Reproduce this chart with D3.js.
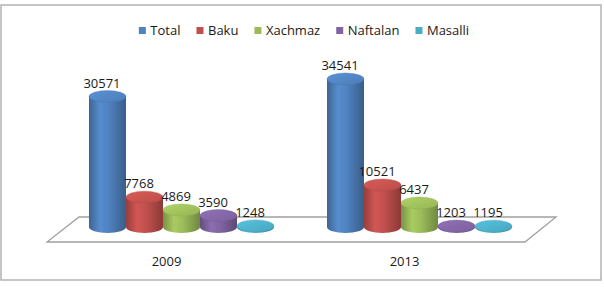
<!DOCTYPE html>
<html>
<head>
<meta charset="utf-8">
<script src="https://cdn.jsdelivr.net/npm/d3@7"></script>
<style>
  html, body { margin: 0; padding: 0; background: #fff; }
  svg { display: block; }
  text { font-family: "Open Sans", sans-serif; fill: #1a1a1a; }
</style>
</head>
<body>
<svg id="chart" width="604" height="287"></svg>
<script>
// ---- data ----
const years = ["2009", "2013"];
const seriesNames = ["Total", "Baku", "Xachmaz", "Naftalan", "Masalli"];
const seriesColors = ["#4F81BD", "#C0504D", "#9BBB59", "#8064A2", "#4BACC6"];
const values2009 = [30571, 7768, 4869, 3590, 1248];
const values2013 = [34541, 10521, 6437, 1203, 1195];
const valuesByYear = { "2009": values2009, "2013": values2013 };

// ---- layout ----
const W = 604, H = 287;
const svg = d3.select("#chart");

// border
svg.append("rect").attr("x", 1).attr("y", 5).attr("width", 600).attr("height", 275)
  .attr("fill", "#fff").attr("stroke", "#b3b3b3").attr("stroke-width", 1.5);

const x0 = d3.scaleBand().domain(years).range([62.5, 538.5])
  .paddingInner(0.2227).paddingOuter(0.1113);
const x1 = d3.scaleBand().domain(seriesNames).range([0, x0.bandwidth()]);
const y = d3.scaleLinear().domain([1000, 35000]).range([227, 77]).clamp(true);
const ry = 6;
const depthShift = 15;

// floor (3D parallelogram)
const floorBackY = 217, floorFrontY = 242;
const floorBackL = x0.range()[0] + 16.5, floorBackR = x0.range()[1] + 17.5;
const floorFrontL = floorBackL - 32, floorFrontR = floorBackR - 31;
svg.append("path")
  .attr("d", `M${floorBackL},${floorBackY} L${floorBackR},${floorBackY} L${floorFrontR},${floorFrontY} L${floorFrontL},${floorFrontY} Z`)
  .attr("fill", "#fff").attr("stroke", "#a0a0a0").attr("stroke-width", 1.3);

// gradients
const defs = svg.append("defs");
seriesColors.forEach((c, i) => {
  const base = d3.color(c);
  const g = defs.append("linearGradient").attr("id", "side" + i)
    .attr("x1", 0).attr("x2", 1).attr("y1", 0).attr("y2", 0);
  g.append("stop").attr("offset", "0%").attr("stop-color", base.darker(0.7));
  g.append("stop").attr("offset", "30%").attr("stop-color", base.brighter(0.25));
  g.append("stop").attr("offset", "55%").attr("stop-color", base);
  g.append("stop").attr("offset", "100%").attr("stop-color", base.darker(0.9));
  const t = defs.append("linearGradient").attr("id", "top" + i)
    .attr("x1", 0).attr("x2", 1).attr("y1", 0).attr("y2", 1);
  t.append("stop").attr("offset", "0%").attr("stop-color", base.brighter(0.35));
  t.append("stop").attr("offset", "100%").attr("stop-color", base.darker(0.1));
});

// cylinders
const bottomY = y(1000);
years.forEach(yr => {
  const vals = valuesByYear[yr];
  const g = svg.append("g");
  vals.forEach((v, i) => {
    const s = seriesNames[i];
    const bx = x0(yr) + x1(s);
    const w = x1.bandwidth();
    const rx = w / 2;
    const cx = bx + rx;
    const yt = y(v);
    g.append("path")
      .attr("d", `M${bx},${yt} L${bx},${bottomY} A${rx},${ry} 0 0 0 ${bx + w},${bottomY} L${bx + w},${yt} Z`)
      .attr("fill", `url(#side${i})`);
    g.append("ellipse").attr("cx", cx).attr("cy", yt).attr("rx", rx).attr("ry", ry)
      .attr("fill", `url(#top${i})`)
      .attr("stroke", d3.color(seriesColors[i]).darker(0.3)).attr("stroke-width", 0.4);
  });
  vals.forEach((v, i) => {
    const s = seriesNames[i];
    const cx = x0(yr) + x1(s) + x1.bandwidth() / 2;
    g.append("text").attr("x", cx - 5.5).attr("y", y(v) - ry - 3)
      .attr("text-anchor", "middle").attr("font-size", 13).text(v);
  });
});

// category labels
svg.selectAll(".cat").data(years).enter().append("text")
  .attr("class", "cat")
  .attr("x", d => x0(d) + x0.bandwidth() / 2 - depthShift)
  .attr("y", 266).attr("text-anchor", "middle").attr("font-size", 13)
  .text(d => d);

// legend
const legend = svg.append("g");
const items = legend.selectAll("g").data(seriesNames).enter().append("g");
items.append("rect").attr("width", 7).attr("height", 7).attr("y", 27)
  .attr("fill", (d, i) => seriesColors[i]);
items.append("text").attr("x", 11.5).attr("y", 35).attr("font-size", 13).text(d => d);
let cur = 0;
const pos = [];
items.each(function () {
  pos.push(cur);
  const tw = d3.select(this).select("text").node().getComputedTextLength();
  cur += 11.5 + tw + 16;
});
const totalW = cur - 16;
const startX = 304 - totalW / 2;
items.attr("transform", (d, i) => `translate(${startX + pos[i]},0)`);
</script>
</body>
</html>
